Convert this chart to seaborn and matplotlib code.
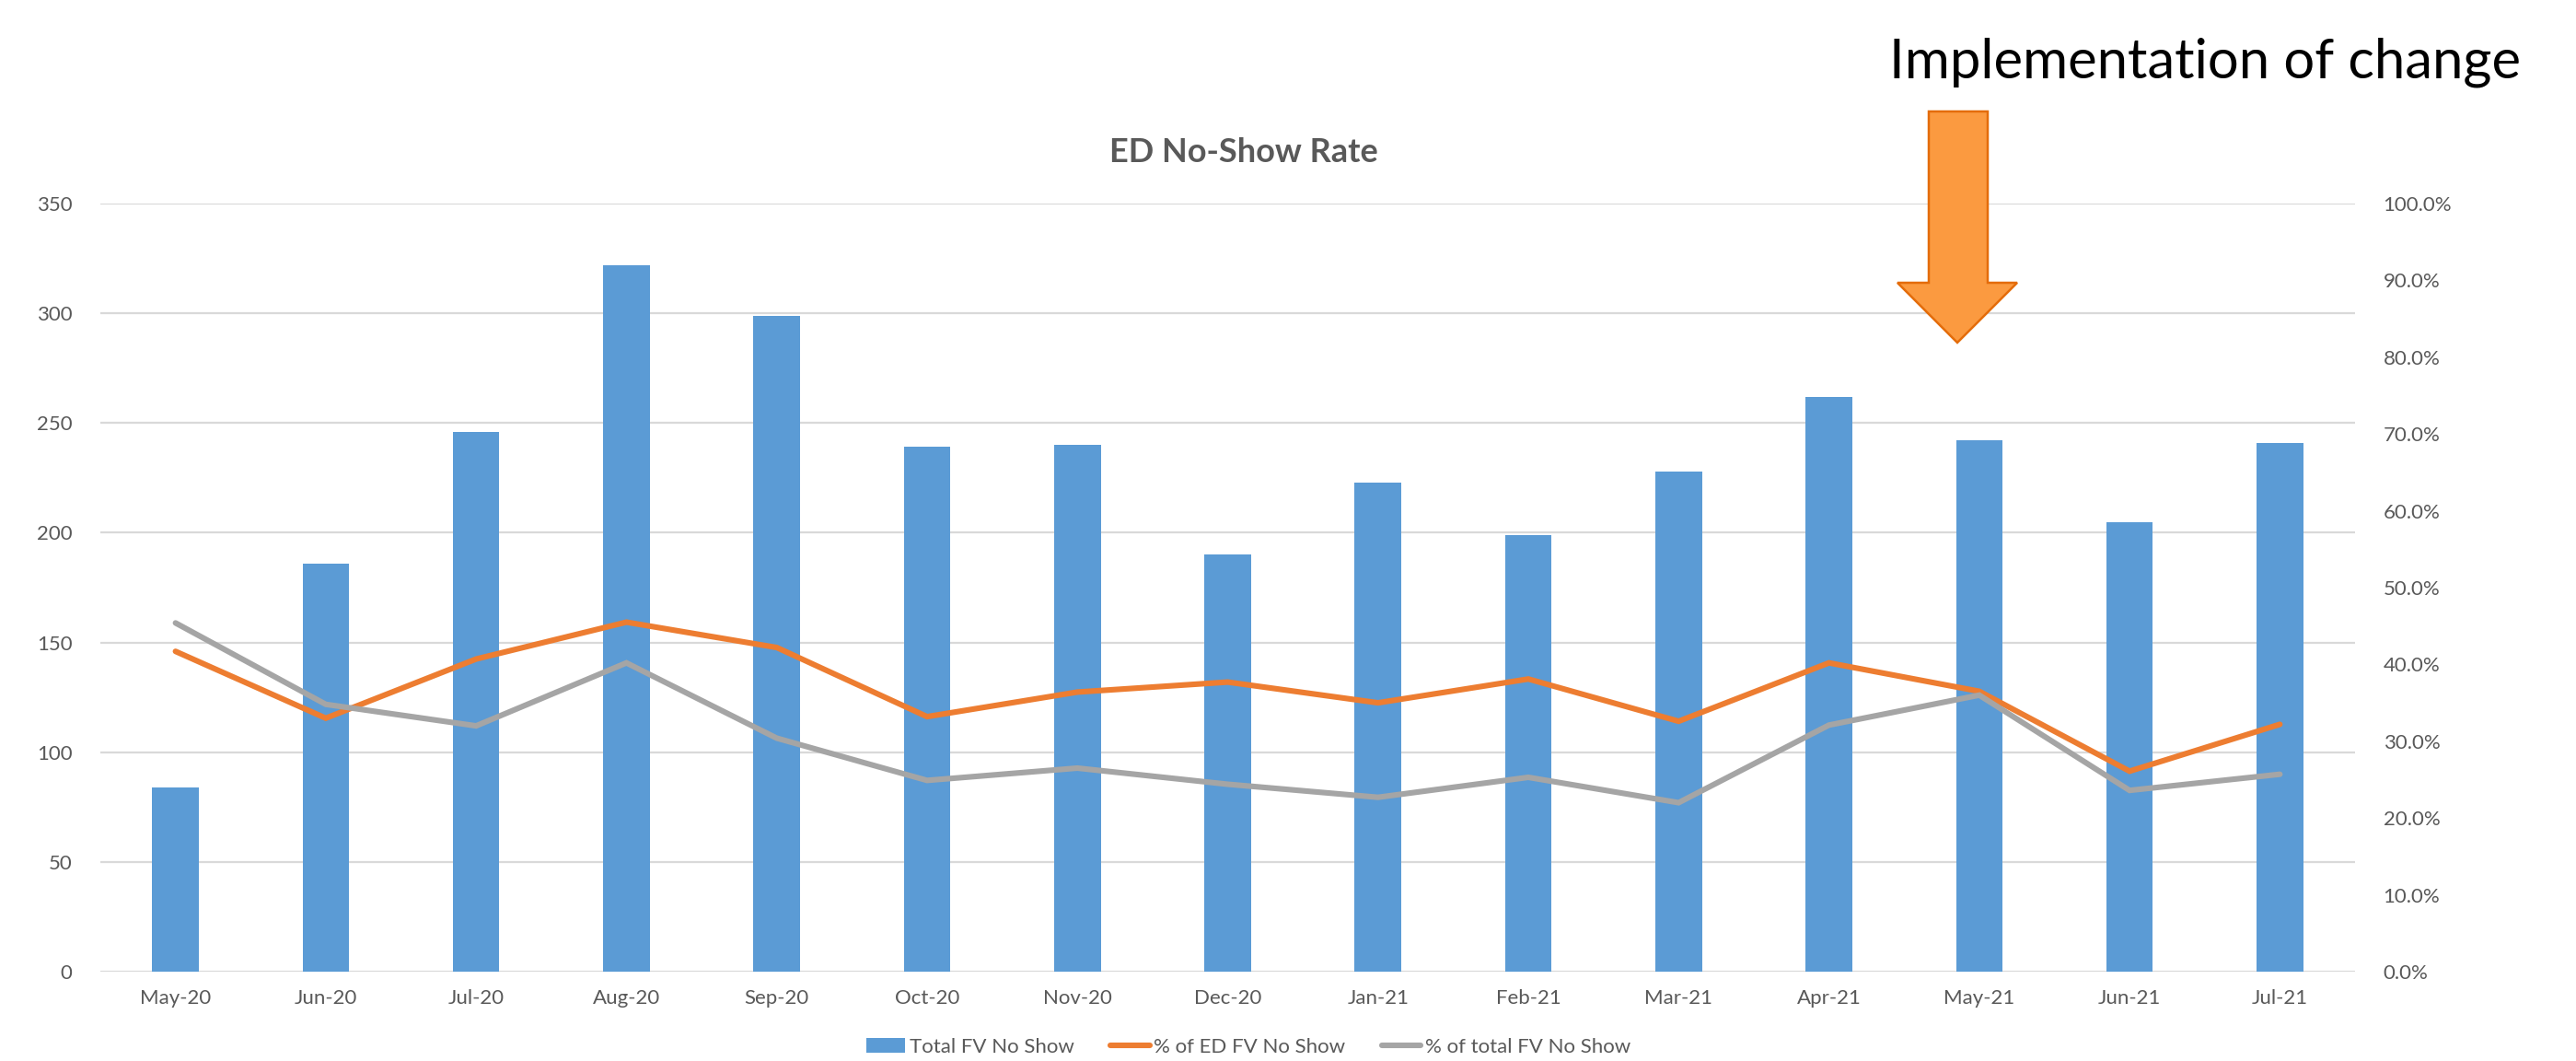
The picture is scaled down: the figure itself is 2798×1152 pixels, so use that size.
import numpy as np
import pandas as pd
import matplotlib
matplotlib.use("Agg")
import matplotlib.pyplot as plt
from matplotlib.patches import Polygon, Patch
from matplotlib.lines import Line2D
from matplotlib.ticker import PercentFormatter, MultipleLocator
import seaborn as sns

# ---- data ----
months = ["May-20", "Jun-20", "Jul-20", "Aug-20", "Sep-20", "Oct-20", "Nov-20",
          "Dec-20", "Jan-21", "Feb-21", "Mar-21", "Apr-21", "May-21", "Jun-21", "Jul-21"]
total_fv_no_show = [84, 186, 246, 322, 299, 239, 240, 190, 223, 199, 228, 262, 242, 205, 241]
pct_ed_fv_no_show = [0.417, 0.330, 0.407, 0.455, 0.422, 0.332, 0.364, 0.377, 0.350, 0.381,
                     0.326, 0.402, 0.365, 0.261, 0.322]
pct_total_fv_no_show = [0.454, 0.348, 0.320, 0.402, 0.304, 0.249, 0.265, 0.244, 0.227, 0.253,
                        0.220, 0.321, 0.360, 0.236, 0.257]
series_labels = ["Total FV No Show", "% of ED FV No Show", "% of total FV No Show"]
title = "ED No-Show Rate"
annotation = "Implementation of change"

BLUE = "#5B9BD5"
ORANGE = "#ED7D31"
GRAY = "#A5A5A5"
TXT = "#595959"
GRID = "#D9D9D9"

sns.set_theme(style="white")
plt.rcParams['font.family'] = ['Lato', 'DejaVu Sans']

W, H = 2798, 1152
fig = plt.figure(figsize=(W / 100, H / 100), dpi=100)
L, R, T, B = 109, 2558, 221, 1055
ax = fig.add_axes([L / W, 1 - B / H, (R - L) / W, (B - T) / H])

df_bar = pd.DataFrame({"Month": months, "Total": total_fv_no_show})
sns.barplot(data=df_bar, x="Month", y="Total", color=BLUE, width=0.31,
            saturation=1, linewidth=0, ax=ax)
ax.set_ylim(0, 350)
ax.yaxis.set_major_locator(MultipleLocator(50))
ax.set_axisbelow(True)
ax.yaxis.grid(True, color=GRID, linewidth=1.6)
ax.xaxis.grid(False)
ax.set_xlabel("")
ax.set_ylabel("")

ax2 = ax.twinx()
idx = np.arange(len(months))
df_line = pd.DataFrame({"idx": idx, "ed": pct_ed_fv_no_show, "tot": pct_total_fv_no_show})
sns.lineplot(data=df_line, x="idx", y="ed", color=ORANGE, linewidth=4.4, ax=ax2,
             solid_capstyle="round", solid_joinstyle="miter")
sns.lineplot(data=df_line, x="idx", y="tot", color=GRAY, linewidth=4.4, ax=ax2,
             solid_capstyle="round", solid_joinstyle="miter")
ax2.set_ylim(0, 1)
ax2.yaxis.set_major_locator(MultipleLocator(0.1))
ax2.yaxis.set_major_formatter(PercentFormatter(1.0, decimals=1))
ax2.set_xlabel("")
ax2.set_ylabel("")
ax2.grid(False)
ax.set_xlim(-0.5, len(months) - 0.5)
ax.set_xticks(idx)
ax.set_xticklabels(months)

for a in (ax, ax2):
    for s in a.spines.values():
        s.set_visible(False)
    a.tick_params(axis="both", length=0, colors=TXT)
ax.tick_params(axis="x", labelsize=16, pad=14)
ax.tick_params(axis="y", labelsize=16, pad=22)
ax2.tick_params(axis="y", labelsize=16, pad=22)

fig.text(1351 / W, 1 - 166 / H, title, ha="center", va="center",
         fontsize=26, fontweight="bold", color=TXT)

handles = [Patch(facecolor=BLUE, edgecolor="none"),
           Line2D([], [], color=ORANGE, lw=4.4, solid_capstyle="round"),
           Line2D([], [], color=GRAY, lw=4.4, solid_capstyle="round")]
fig.legend(handles, series_labels, loc="center", bbox_to_anchor=(1356 / W, 1 - 1137 / H),
           ncol=3, frameon=False, fontsize=16, handlelength=1.9, handletextpad=0.2,
           columnspacing=1.8, labelcolor=TXT)

# annotation arrow and text
pts = [(2095, 121), (2159, 121), (2159, 307), (2191, 307), (2126, 372),
       (2061, 307), (2095, 307)]
poly = Polygon([(x / W, 1 - y / H) for x, y in pts], closed=True,
               transform=fig.transFigure, facecolor="#FB9A40", edgecolor="#E46C0A",
               linewidth=1.8, zorder=10)
fig.patches.append(poly)
fig.text(2395 / W, 1 - 68 / H, annotation, ha="center", va="center",
         fontsize=43, color="black")

fig.savefig("out.png", dpi=100)
